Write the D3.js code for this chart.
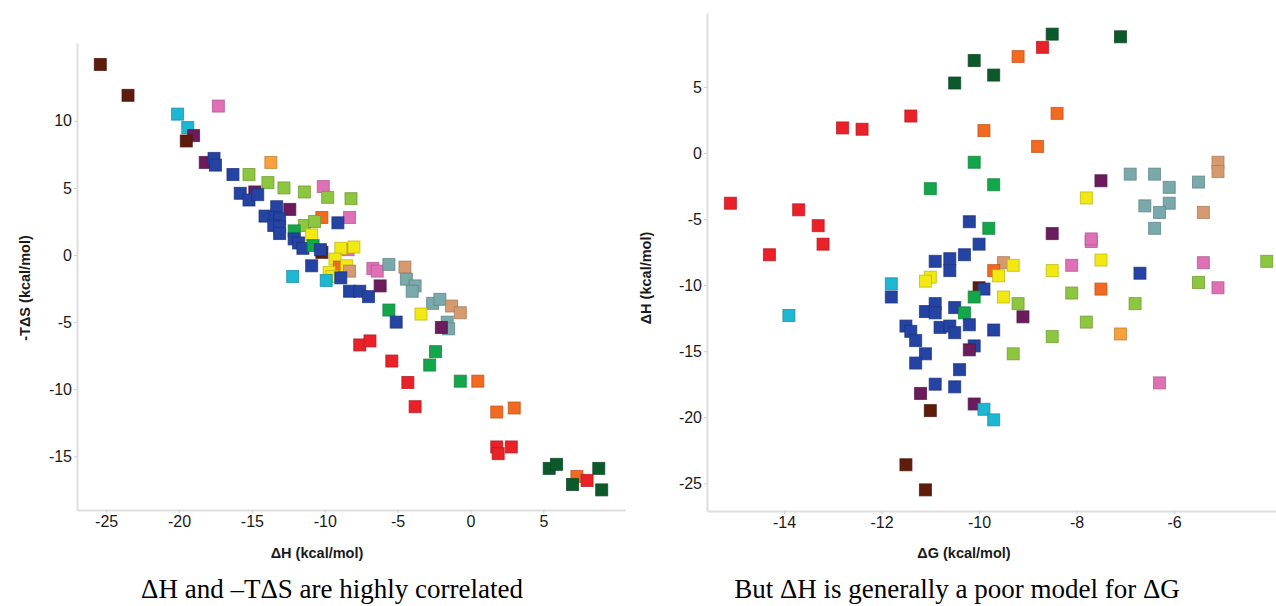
<!DOCTYPE html>
<html>
<head>
<meta charset="utf-8">
<script src="https://cdn.jsdelivr.net/npm/d3@7"></script>
<style>
  body { margin: 0; background: #fff; }
  svg { display: block; }
  .tick text { font-family: "Liberation Sans", Arial, sans-serif; font-size: 16px; fill: #1a1a1a; }
  .axis-title { font-family: "Liberation Sans", Arial, sans-serif; font-size: 14.5px; font-weight: bold; fill: #1a1a1a; }
  .caption { font-family: "Liberation Serif", "Times New Roman", serif; font-size: 27px; fill: #000; }
</style>
</head>
<body>
<div id="chartHolder"></div>
<script>
// categories (marker colour groups)
const categories = ["brown","cyan","pink","purple","blue","orange","orangeLight","lightGreen","green","yellow","red","teal","tan","darkGreen"];
const categoryColors = ["#5e1c0c","#1db6d3","#e070b6","#6b1c5c","#2443a2","#f26a21","#f6a13c","#8dc63f","#13a64b","#f3e912","#ea2128","#79a9aa","#d59a70","#0c5a2c"];

// left panel: [category, ΔH, -TΔS]
const leftPoints = [
  ["brown",-25.4,14.2],["brown",-23.5,11.9],["cyan",-20.1,10.5],["pink",-17.3,11.1],
  ["cyan",-19.4,9.5],["purple",-19.0,8.9],["brown",-19.5,8.5],["purple",-18.2,6.9],
  ["blue",-17.6,7.2],["blue",-17.5,6.7],["blue",-16.3,6.0],["lightGreen",-15.2,6.0],
  ["orangeLight",-13.7,6.9],["lightGreen",-13.9,5.4],["lightGreen",-12.8,5.0],["lightGreen",-11.4,4.7],
  ["pink",-10.1,5.1],["lightGreen",-9.8,4.3],["lightGreen",-8.2,4.2],["blue",-15.8,4.6],
  ["purple",-14.8,4.7],["blue",-15.2,4.1],["blue",-14.6,4.5],["blue",-13.3,3.6],
  ["purple",-12.4,3.4],["blue",-14.1,2.9],["blue",-13.4,2.8],["blue",-13.1,2.7],
  ["blue",-13.5,2.2],["blue",-13.1,2.1],["blue",-13.1,1.6],["orange",-10.2,2.8],
  ["pink",-8.3,2.8],["blue",-9.1,2.4],["lightGreen",-11.4,2.2],["lightGreen",-10.7,2.5],
  ["green",-12.1,1.8],["blue",-12.1,1.2],["blue",-11.8,0.9],["blue",-11.5,0.5],
  ["yellow",-10.9,1.5],["green",-10.8,0.7],["brown",-10.2,0.2],["blue",-10.3,0.4],
  ["pink",-8.4,0.4],["yellow",-8.9,0.5],["yellow",-8.0,0.6],["yellow",-9.3,-0.3],
  ["orange",-9.0,-0.9],["yellow",-8.5,-0.8],["tan",-8.3,-1.2],["pink",-6.7,-1.0],
  ["pink",-6.4,-1.2],["blue",-10.9,-0.8],["cyan",-12.2,-1.6],["yellow",-9.7,-1.3],
  ["yellow",-9.5,-1.6],["cyan",-9.9,-1.9],["blue",-8.9,-1.7],["blue",-8.3,-2.7],
  ["blue",-7.6,-2.7],["blue",-7.0,-3.1],["purple",-6.2,-2.3],["teal",-5.6,-0.7],
  ["tan",-4.5,-0.9],["teal",-4.4,-1.8],["teal",-3.8,-2.3],["teal",-4.0,-2.7],
  ["teal",-2.6,-3.6],["teal",-2.1,-3.3],["tan",-1.3,-3.8],["tan",-0.7,-4.3],
  ["yellow",-3.4,-4.4],["teal",-1.6,-5.0],["teal",-1.5,-5.5],["purple",-2.0,-5.4],
  ["green",-5.6,-4.1],["blue",-5.1,-5.0],["red",-7.6,-6.7],["red",-6.9,-6.4],
  ["red",-5.4,-7.9],["green",-2.4,-7.2],["green",-2.8,-8.2],["red",-4.3,-9.5],
  ["green",-0.7,-9.4],["orange",0.5,-9.4],["red",-3.8,-11.3],["orange",1.8,-11.7],
  ["orange",3.0,-11.4],["red",1.8,-14.3],["red",1.9,-14.8],["red",2.8,-14.3],
  ["darkGreen",5.4,-15.9],["darkGreen",5.9,-15.6],["darkGreen",8.8,-15.9],["orange",7.3,-16.5],
  ["red",8.0,-16.8],["darkGreen",7.0,-17.1],["darkGreen",9.0,-17.5]
];

// right panel: [category, ΔG, ΔH]
const rightPoints = [
  ["darkGreen",-10.5,5.3],["darkGreen",-10.1,7.0],["darkGreen",-9.7,5.9],["darkGreen",-8.5,9.0],
  ["darkGreen",-7.1,8.8],["red",-8.7,8.0],["orange",-9.2,7.3],["orange",-8.4,3.0],
  ["orange",-9.9,1.7],["orange",-8.8,0.5],["red",-11.4,2.8],["red",-12.8,1.9],
  ["red",-12.4,1.8],["green",-11.0,-2.7],["green",-10.1,-0.7],["green",-9.7,-2.4],
  ["red",-15.1,-3.8],["red",-13.7,-4.3],["red",-13.3,-5.5],["red",-13.2,-6.9],
  ["red",-14.3,-7.7],["purple",-7.5,-2.1],["teal",-6.9,-1.6],["teal",-6.4,-1.6],
  ["teal",-6.1,-2.6],["teal",-5.5,-2.2],["tan",-5.1,-0.7],["tan",-5.1,-1.4],
  ["yellow",-7.8,-3.4],["teal",-6.6,-4.0],["teal",-6.1,-3.8],["teal",-6.3,-4.5],
  ["tan",-5.4,-4.5],["teal",-6.4,-5.7],["purple",-8.5,-6.1],["pink",-7.7,-6.7],
  ["pink",-7.7,-6.5],["blue",-10.2,-5.2],["green",-9.8,-5.7],["blue",-10.0,-6.9],
  ["blue",-10.3,-7.7],["blue",-10.6,-8.0],["blue",-10.9,-8.2],["blue",-10.6,-8.9],
  ["yellow",-7.5,-8.1],["pink",-8.1,-8.5],["yellow",-8.5,-8.9],["blue",-6.7,-9.1],
  ["pink",-5.4,-8.3],["lightGreen",-4.1,-8.2],["tan",-9.5,-8.3],["yellow",-9.3,-8.5],
  ["orange",-9.7,-8.9],["yellow",-9.6,-9.3],["yellow",-11.0,-9.4],["yellow",-11.1,-9.7],
  ["cyan",-11.8,-9.9],["blue",-11.8,-10.9],["brown",-10.0,-10.2],["blue",-9.9,-10.3],
  ["green",-10.1,-10.9],["yellow",-9.5,-10.9],["lightGreen",-9.2,-11.4],["lightGreen",-8.1,-10.6],
  ["orange",-7.5,-10.3],["lightGreen",-6.8,-11.4],["lightGreen",-5.5,-9.8],["pink",-5.1,-10.2],
  ["blue",-10.5,-11.7],["green",-10.3,-12.1],["purple",-9.1,-12.4],["lightGreen",-7.8,-12.8],
  ["blue",-10.9,-11.4],["blue",-11.1,-12.0],["blue",-10.9,-12.1],["blue",-10.2,-13.0],
  ["blue",-9.7,-13.4],["lightGreen",-8.5,-13.9],["orangeLight",-7.1,-13.7],["blue",-11.5,-13.1],
  ["blue",-11.4,-13.5],["blue",-11.3,-14.2],["blue",-10.8,-13.2],["blue",-10.6,-13.1],
  ["blue",-10.5,-13.6],["blue",-10.1,-14.6],["purple",-10.2,-14.9],["lightGreen",-9.3,-15.2],
  ["blue",-11.1,-15.2],["blue",-11.3,-15.9],["blue",-10.4,-16.4],["pink",-6.3,-17.4],
  ["blue",-10.9,-17.5],["blue",-10.5,-17.7],["purple",-11.2,-18.2],["purple",-10.1,-19.0],
  ["cyan",-9.9,-19.4],["cyan",-9.7,-20.2],["brown",-11.0,-19.5],["brown",-11.5,-23.6],
  ["brown",-11.1,-25.5],["cyan",-13.9,-12.3]
];

// tick labels
const leftXTicks = [-25,-20,-15,-10,-5,0,5];
const leftYTicks = [-15,-10,-5,0,5,10];
const rightXTicks = [-14,-12,-10,-8,-6];
const rightYTicks = [-25,-20,-15,-10,-5,0,5];

const width = 1276;
const height = 606;
const color = d3.scaleOrdinal().domain(categories).range(categoryColors);

const svg = d3.select("#chartHolder")
  .append("svg")
  .attr("width", width)
  .attr("height", height);

function drawPanel(cfg){
  const x = d3.scaleLinear().domain(cfg.xDomain).range(cfg.xRange);
  const y = d3.scaleLinear().domain(cfg.yDomain).range(cfg.yRange);

  const xAxis = svg.append("g")
    .attr("transform", `translate(0,${cfg.yRange[0]})`)
    .call(d3.axisBottom(x).tickValues(cfg.xTicks).tickSize(3).tickSizeOuter(0).tickPadding(3).tickFormat(d => String(d)));
  const yAxis = svg.append("g")
    .attr("transform", `translate(${cfg.xRange[0]},0)`)
    .call(d3.axisLeft(y).tickValues(cfg.yTicks).tickSize(3).tickSizeOuter(0).tickPadding(2).tickFormat(d => String(d)));
  [xAxis, yAxis].forEach(g => {
    g.select(".domain").attr("stroke", "#dedede").attr("stroke-width", 2);
    g.selectAll(".tick line").attr("stroke", "#cfcfcf");
  });

  const s = 12;
  svg.append("g")
    .selectAll("rect")
    .data(cfg.points)
    .enter()
    .append("rect")
    .attr("x", d => x(d[1]) - s / 2)
    .attr("y", d => y(d[2]) - s / 2)
    .attr("width", s)
    .attr("height", s)
    .attr("fill", d => color(d[0]))
    .attr("stroke", d => d3.color(color(d[0])).darker(0.7))
    .attr("stroke-width", 1)
    .attr("stroke-opacity", 0.75);

  svg.append("text")
    .attr("class", "axis-title")
    .attr("text-anchor", "middle")
    .attr("x", cfg.xTitlePos[0])
    .attr("y", cfg.xTitlePos[1])
    .text(cfg.xTitle);
  svg.append("text")
    .attr("class", "axis-title")
    .attr("text-anchor", "middle")
    .attr("transform", `translate(${cfg.yTitlePos[0]},${cfg.yTitlePos[1]}) rotate(-90)`)
    .text(cfg.yTitle);
  svg.append("text")
    .attr("class", "caption")
    .attr("text-anchor", "middle")
    .attr("x", cfg.captionPos[0])
    .attr("y", cfg.captionPos[1])
    .text(cfg.caption);
}

drawPanel({
  points: leftPoints,
  xDomain: [-27, 10.6], xRange: [77, 625],
  yDomain: [-19, 15.8], yRange: [510, 43],
  xTicks: leftXTicks, yTicks: leftYTicks,
  xTitle: "ΔH (kcal/mol)", xTitlePos: [317, 558],
  yTitle: "-TΔS (kcal/mol)", yTitlePos: [30, 288],
  caption: "ΔH and –TΔS are highly correlated", captionPos: [332, 598]
});

drawPanel({
  points: rightPoints,
  xDomain: [-15.58, -3.91], xRange: [707, 1276],
  yDomain: [-27.1, 10.6], yRange: [511, 13],
  xTicks: rightXTicks, yTicks: rightYTicks,
  xTitle: "ΔG (kcal/mol)", xTitlePos: [964, 558],
  yTitle: "ΔH (kcal/mol)", yTitlePos: [651, 278],
  caption: "But ΔH is generally a poor model for ΔG", captionPos: [957, 598]
});
</script>
</body>
</html>
